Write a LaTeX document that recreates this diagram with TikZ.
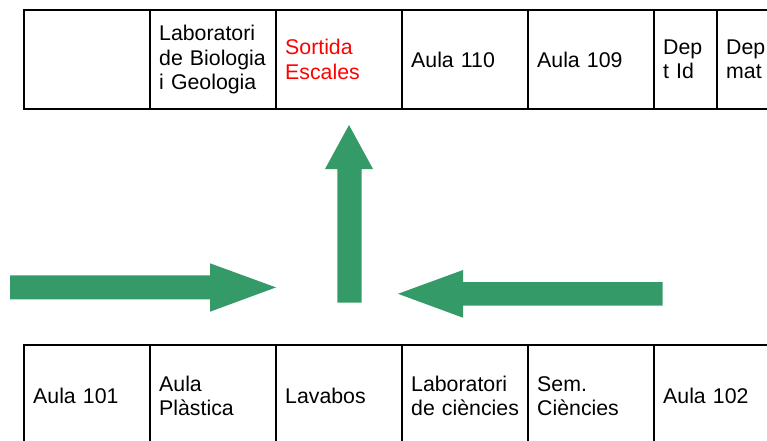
\documentclass[tikz,border=0pt]{standalone}
\usepackage{fontspec}
\setmainfont{Liberation Sans}
\definecolor{arrowgreen}{RGB}{52,154,104}
\definecolor{exitred}{RGB}{255,0,0}
\hyphenpenalty=10000
\exhyphenpenalty=10000
\hbadness=10000
\begin{document}
\begin{tikzpicture}[x=1pt,y=-1pt,
  cell/.style={draw=black,line width=2pt,rectangle,inner xsep=9.5pt,inner ysep=0pt,
    minimum height=#1,align=left,anchor=west,
    font={\fontsize{21.3}{24.5}\selectfont}},
  wide/.style={text width=107pt,minimum width=126pt},
  narrow/.style={text width=44pt,minimum width=63pt},
  blockarrow/.style={fill=arrowgreen,draw=none}]
\useasboundingbox (0,0) rectangle (767,440);
\clip (0,0) rectangle (767,440);
% top row
\node[cell=99pt,wide] (t1) at (22.7,59.5) {};
\node[cell=99pt,wide] (t2) at (148.7,59.5) {Laboratori\\de Biologia\\i Geologia};
\node[cell=99pt,wide,text=exitred] (t3) at (274.7,59.5) {Sortida\\Escales};
\node[cell=99pt,wide] (t4) at (400.7,59.5) {Aula 110};
\node[cell=99pt,wide] (t5) at (526.7,59.5) {Aula 109};
\node[cell=99pt,narrow] (t6) at (652.7,59.5) {Dep\\t Id};
\node[cell=99pt,narrow] (t7) at (715.7,59.5) {Dep\\mat};
% bottom row
\node[cell=102pt,wide] (b1) at (22.7,396) {Aula 101};
\node[cell=102pt,wide] (b2) at (148.7,396) {Aula\\Plàstica};
\node[cell=102pt,wide] (b3) at (274.7,396) {Lavabos};
\node[cell=102pt,wide] (b4) at (400.7,396) {Laboratori\\\mbox{de ciències}};
\node[cell=102pt,wide] (b5) at (526.7,396) {Sem.\\Ciències};
\node[cell=102pt,wide] (b6) at (652.7,396) {Aula 102};
% arrows
\fill[blockarrow] (10,275.3) -- (210,275.3) -- (210,263.3) -- (276,287.4)
  -- (210,311.7) -- (210,299.3) -- (10,299.3) -- cycle;
\fill[blockarrow] (337.4,302.7) -- (337.4,169) -- (325,169) -- (349,125)
  -- (373,169) -- (361.6,169) -- (361.6,302.7) -- cycle;
\fill[blockarrow] (662.5,282) -- (463,282) -- (463,270) -- (398,293.8)
  -- (463,317.7) -- (463,305.7) -- (662.5,305.7) -- cycle;
\end{tikzpicture}
\end{document}
